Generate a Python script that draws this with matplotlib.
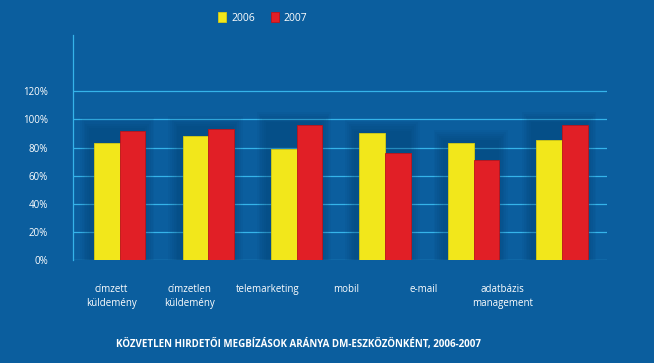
import numpy as np
import matplotlib
matplotlib.use("Agg")
import matplotlib.pyplot as plt

categories = ["címzett\nküldemény", "címzetlen\nküldemény", "telemarketing",
              "mobil", "e-mail", "adatbázis\nmanagement"]
v2006 = [83, 88, 79, 90, 83, 85]
v2007 = [92, 93, 96, 76, 71, 96]
yticks = [0, 20, 40, 60, 80, 100, 120]
title = "KÖZVETLEN HIRDETŐI MEGBÍZÁSOK ARÁNYA DM-ESZKÖZÖNKÉNT, 2006-2007"

bg = "#0b5e9e"
grid_c = "#35b4ea"
yellow = "#f2e71b"
red = "#e11f26"

plt.rcParams["font.family"] = ["Open Sans", "DejaVu Sans"]

fig = plt.figure(figsize=(6.54, 3.63), dpi=100, facecolor=bg)
ax = fig.add_axes([73 / 654, 1 - 260 / 363, (607 - 73) / 654, (260 - 35) / 363])
ax.set_facecolor(bg)

x = np.arange(len(categories))
w = 0.29

# soft dark glow behind each pair of bars
top = np.maximum(v2006, v2007)
for k in range(6):
    ax.bar(x - 0.03, np.array(top) + 2 + k * 1.5, 2 * w + 0.06 + k * 0.04,
           color="#04345c", alpha=0.06, zorder=2, linewidth=0)

b1 = ax.bar(x - w / 2, v2006, w, color=yellow, label="2006", zorder=3,
            edgecolor="#d8cd12", linewidth=0.6)
b2 = ax.bar(x + w / 2, v2007, w, color=red, label="2007", zorder=3,
            edgecolor="#bd141b", linewidth=0.6)

ax.set_xlim(-0.53, 5.51)
ax.set_ylim(0, 160)
ax.set_yticks(yticks)
ax.set_yticklabels([f"{t}%" for t in yticks], color="white", fontsize=7)
for t in yticks:
    ax.axhline(t, color=grid_c, linewidth=0.9, zorder=1)

# category labels sit slightly off the bar groups in the original
label_pos = x * 0.885 - 0.10
ax.set_xticks(label_pos)
ax.set_xticklabels(categories, color="white", fontsize=7, linespacing=1.45, va="top")
ax.tick_params(axis="x", length=0, pad=17)
ax.tick_params(axis="y", length=0, pad=18)

for s in ["top", "right", "bottom"]:
    ax.spines[s].set_visible(False)
ax.spines["left"].set_color(grid_c)
ax.spines["left"].set_linewidth(0.9)

leg = fig.legend(handles=[b1, b2], loc="center", bbox_to_anchor=(263 / 654, 1 - 18 / 363),
                 ncol=2, frameon=False, fontsize=7.5, handlelength=0.7, handleheight=1.0,
                 columnspacing=1.6, handletextpad=0.5)
for t in leg.get_texts():
    t.set_color("white")

fig.text(298 / 654, 1 - 344 / 363, title, color="white", fontsize=7, fontweight="bold",
         ha="center", va="center")

fig.savefig("out.png", dpi=100, facecolor=bg)
